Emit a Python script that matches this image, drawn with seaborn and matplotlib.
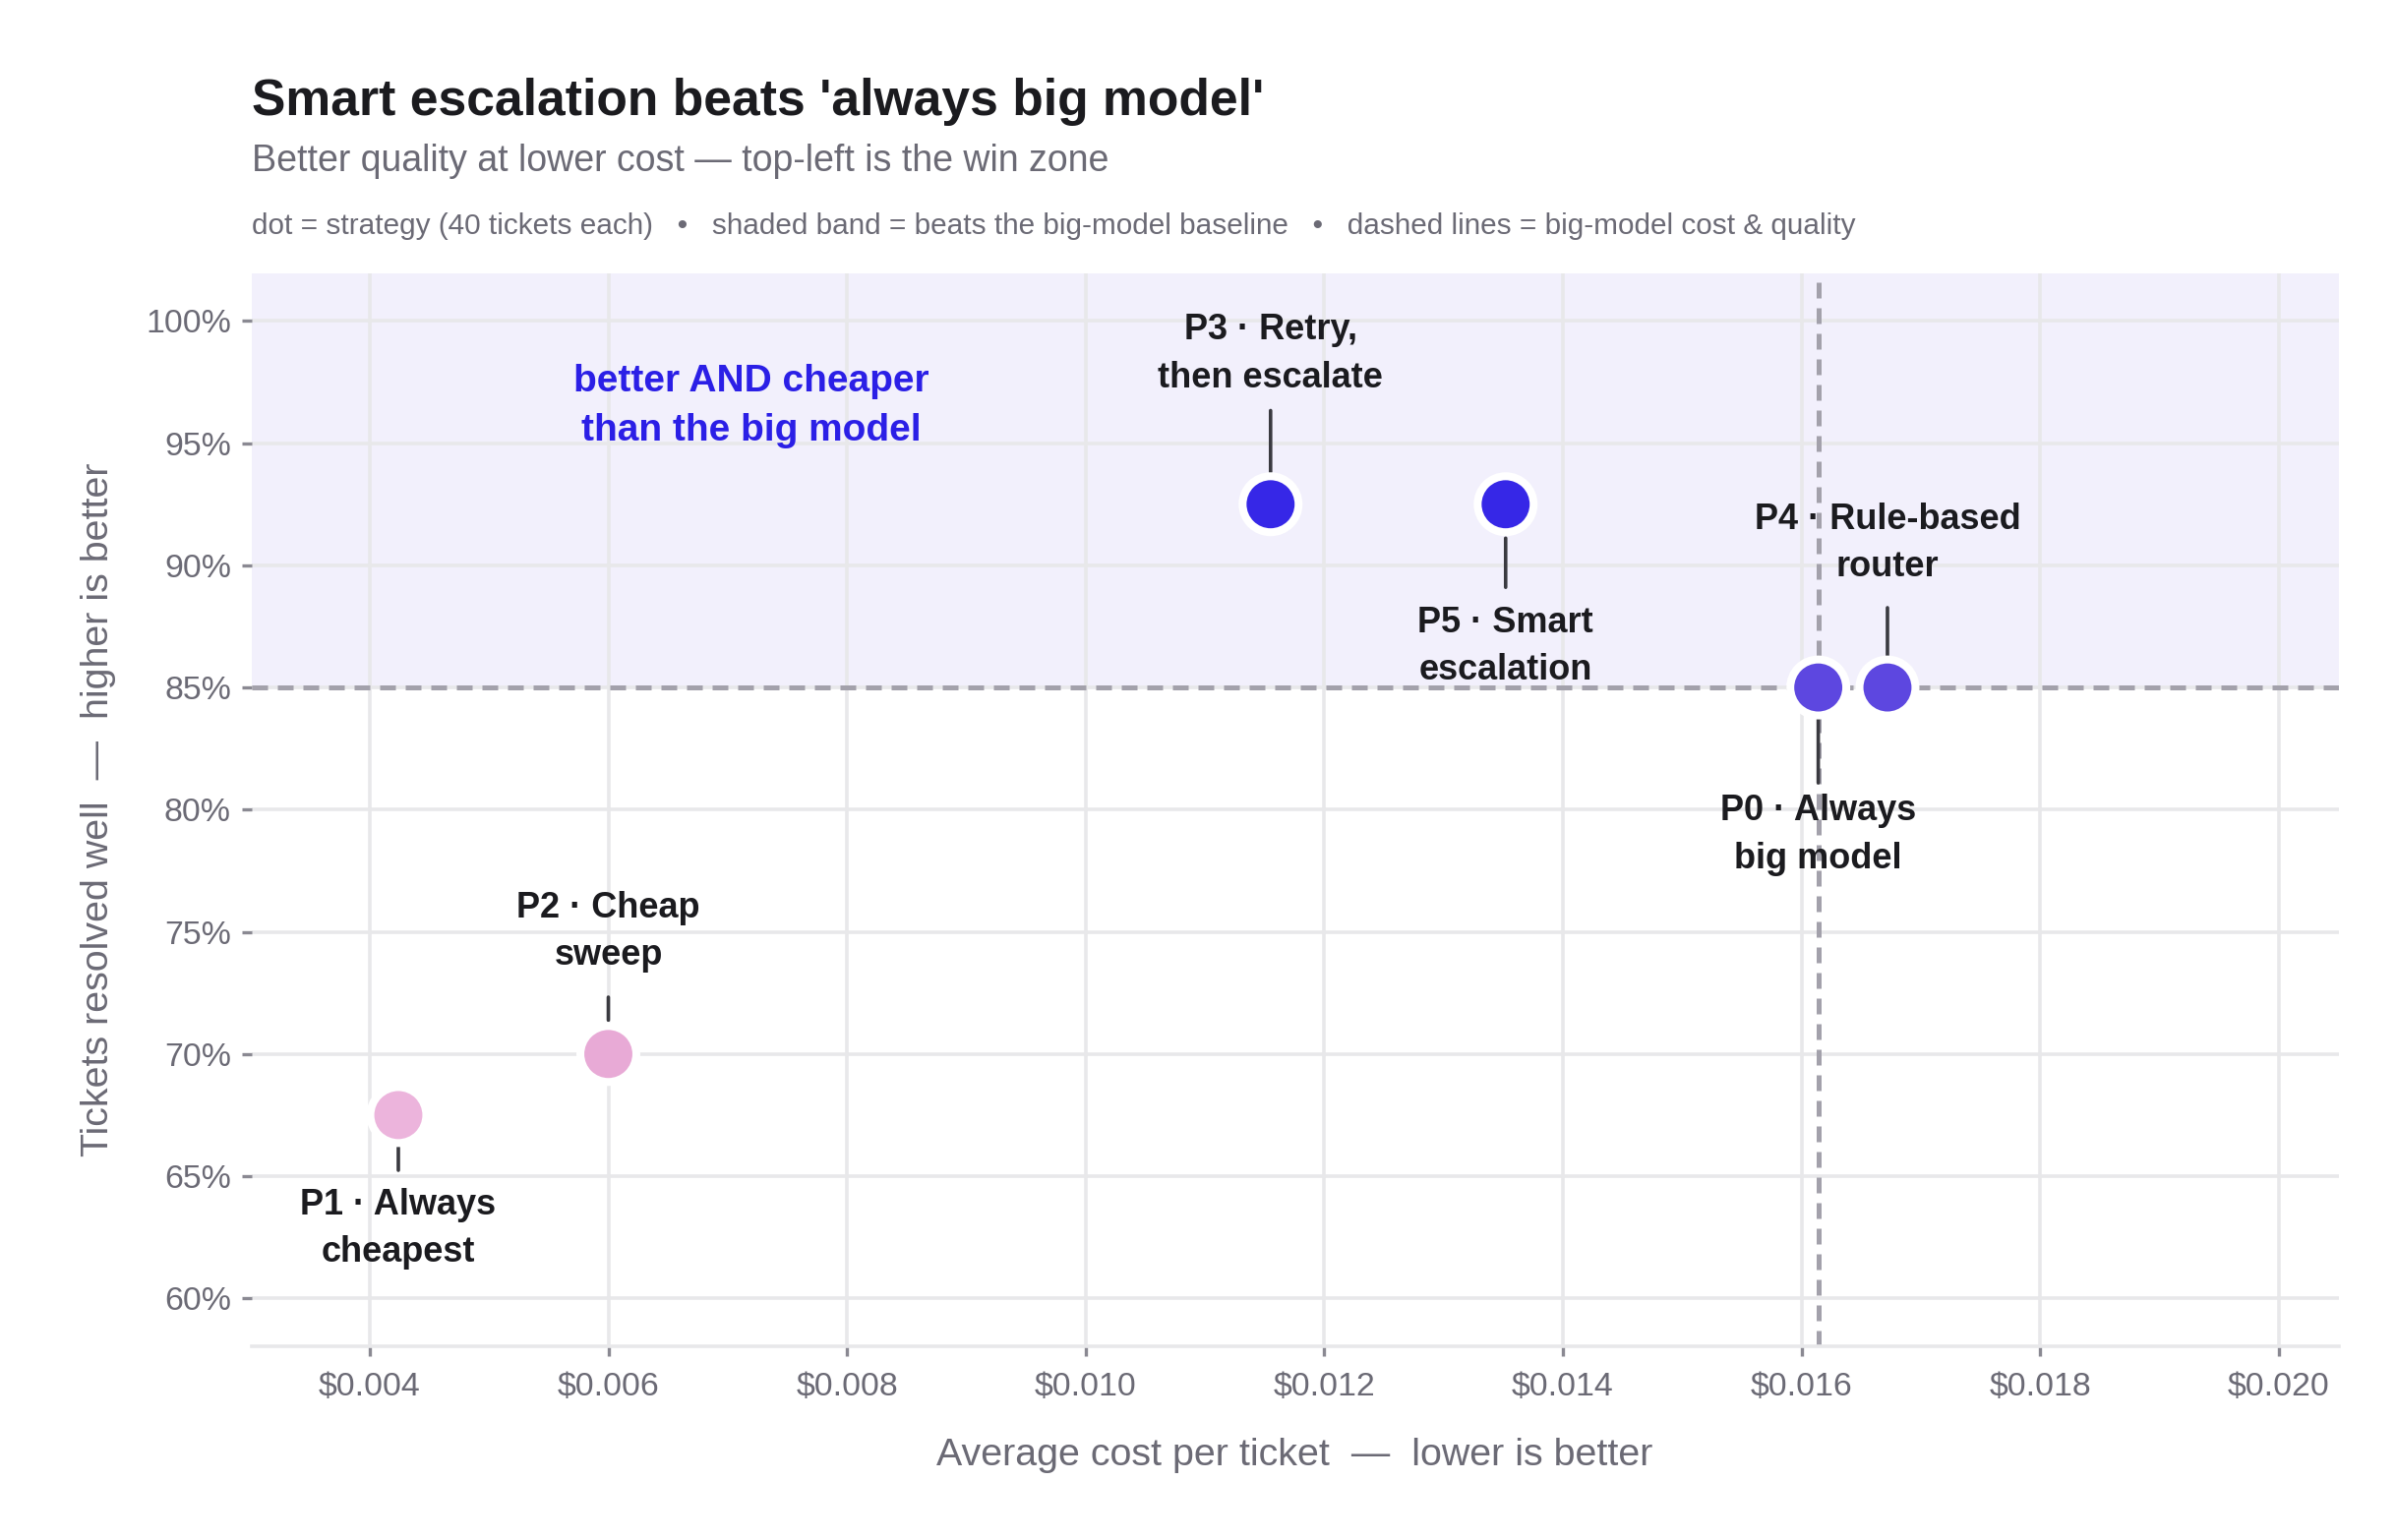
import matplotlib
matplotlib.use("Agg")
import matplotlib.pyplot as plt
import matplotlib.ticker as mticker
import pandas as pd
import seaborn as sns

# strategies
strategies = ["P0", "P1", "P2", "P3", "P4", "P5"]
labels = ["P0 · Always\nbig model", "P1 · Always\ncheapest", "P2 · Cheap\nsweep",
          "P3 · Retry,\nthen escalate", "P4 · Rule-based\nrouter", "P5 · Smart\nescalation"]
cost = [0.01614, 0.00424, 0.0060, 0.01155, 0.01672, 0.01352]
quality = [85.0, 67.5, 70.0, 92.5, 85.0, 92.5]

baseline_cost = cost[0]
baseline_quality = quality[0]

x_ticks = [0.004, 0.006, 0.008, 0.010, 0.012, 0.014, 0.016, 0.018, 0.020]
y_ticks = [60, 65, 70, 75, 80, 85, 90, 95, 100]

df = pd.DataFrame({"strategy": strategies, "label": labels, "cost": cost, "quality": quality})

palette = {"P0": "#5D47E0", "P4": "#5D47E0", "P3": "#3627E7", "P5": "#3627E7",
           "P1": "#ECB4DC", "P2": "#E8AAD6"}

# label placement: (side, text offset pt, leader start pt, leader end pt)
layout = {
    "P0": (-1, 39.0, 10.7, 34.9),
    "P1": (-1, 26.5, 11.8, 20.2),
    "P2": (1, 29.8, 12.4, 20.8),
    "P3": (1, 40.0, 11.8, 34.3),
    "P4": (1, 37.7, 11.2, 29.2),
    "P5": (-1, 37.0, 12.4, 30.4),
}

sns.set_theme(style="white")
plt.rcParams["font.family"] = ["Liberation Sans", "DejaVu Sans"]

INK = "#1b1b1f"
GREY = "#6b6a75"
GRID = "#e8e8ea"

fig = plt.figure(figsize=(12.18, 7.83), dpi=200)
ax = fig.add_axes([0.105, 0.126, 0.871, 0.6965])

ax.set_xlim(0.00301, 0.0205)
ax.set_ylim(58.05, 101.95)

# win zone band
ax.axhspan(baseline_quality, 101.95, color="#f2f0fc", zorder=0, lw=0)

ax.set_xticks(x_ticks)
ax.set_yticks(y_ticks)
ax.grid(True, color=GRID, lw=1.3, zorder=1)
ax.set_axisbelow(True)

ax.axvline(baseline_cost, color="#a3a1ab", lw=1.8, ls=(0, (3.2, 2.0)), zorder=2)
ax.axhline(baseline_quality, color="#a3a1ab", lw=1.8, ls=(0, (3.2, 2.0)), zorder=2)

sns.scatterplot(data=df, x="cost", y="quality", hue="strategy", palette=palette,
                s=420, linewidth=2.9, edgecolor="white", legend=False, zorder=5, ax=ax)

for _, row in df.iterrows():
    side, off, l0, l1 = layout[row["strategy"]]
    ax.annotate("", xy=(row["cost"], row["quality"]), xycoords="data",
                xytext=(0, side * l1), textcoords="offset points",
                arrowprops=dict(arrowstyle="-", color="#3a3a40", lw=1.3,
                                shrinkA=0, shrinkB=l0), zorder=4)
    ax.annotate(row["label"], xy=(row["cost"], row["quality"]), xycoords="data",
                xytext=(0, side * off), textcoords="offset points",
                ha="center", va="bottom" if side > 0 else "top",
                fontsize=13, fontweight="bold", color=INK, linespacing=1.5, zorder=6)

ax.text(0.0072, 96.5, "better AND cheaper\nthan the big model", ha="center", va="center",
        fontsize=14, fontweight="bold", color="#2b1fe6", linespacing=1.5)

ax.xaxis.set_major_formatter(mticker.FuncFormatter(lambda v, p: f"${v:.3f}"))
ax.yaxis.set_major_formatter(mticker.FuncFormatter(lambda v, p: f"{v:.0f}%"))
ax.tick_params(axis="both", colors="#8a8992", labelcolor=GREY, labelsize=12.2,
               length=3.5, width=1.2)
ax.tick_params(axis="x", pad=6, bottom=True)
ax.tick_params(axis="y", pad=4, left=True)

for side in ["top", "right", "left"]:
    ax.spines[side].set_visible(False)
ax.spines["bottom"].set_color(GRID)
ax.spines["bottom"].set_linewidth(1.3)

ax.set_xlabel("Average cost per ticket  —  lower is better", fontsize=14.2, color=GREY, labelpad=13)
ax.set_ylabel("Tickets resolved well  —  higher is better", fontsize=14.2, color=GREY, labelpad=11)

fig.text(0.105, 0.925, "Smart escalation beats 'always big model'", fontsize=18.6,
         fontweight="bold", color=INK, ha="left", va="baseline")
fig.text(0.105, 0.889, "Better quality at lower cost — top-left is the win zone", fontsize=13.5,
         color=GREY, ha="left", va="baseline")
fig.text(0.105, 0.848, "dot = strategy (40 tickets each)   •   shaded band = beats the big-model baseline"
         "   •   dashed lines = big-model cost & quality", fontsize=10.7, color=GREY,
         ha="left", va="baseline")

fig.savefig("out.png", dpi=200)
